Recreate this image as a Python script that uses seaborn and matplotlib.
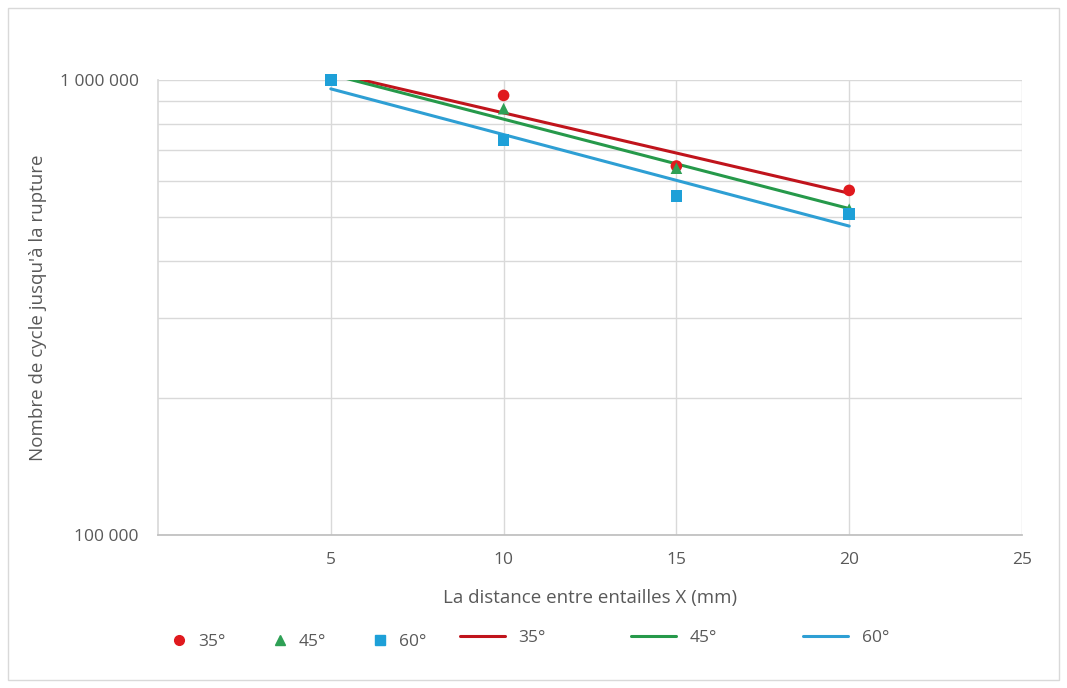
import numpy as np
import pandas as pd
import matplotlib
matplotlib.use("Agg")
import matplotlib.pyplot as plt
from matplotlib.lines import Line2D
from matplotlib.patches import Rectangle
from matplotlib.ticker import FixedLocator, NullFormatter
import seaborn as sns

# ---- data ----
distance = [5, 10, 15, 20]
cycles_35 = [1000000, 925000, 647000, 572000]
cycles_45 = [1000000, 865000, 640000, 520000]
cycles_60 = [1000000, 738000, 556000, 508000]
series_labels = ["35°", "45°", "60°"]
x_ticks = [5, 10, 15, 20, 25]
y_major = [100000, 1000000]
y_major_labels = ["100 000", "1 000 000"]
y_minor = [200000, 300000, 400000, 500000, 600000, 700000, 800000, 900000]

marker_colors = {"35°": "#E0191E", "45°": "#2EA055", "60°": "#1EA0D8"}
line_colors = {"35°": "#C0141C", "45°": "#26994A", "60°": "#2E9FD4"}
markers = {"35°": "o", "45°": "^", "60°": "s"}

df = pd.DataFrame({
    "x": distance * 3,
    "y": cycles_35 + cycles_45 + cycles_60,
    "angle": [series_labels[0]] * 4 + [series_labels[1]] * 4 + [series_labels[2]] * 4,
})

# exponential trend lines (as spreadsheet "exponential" trendline)
trend_rows = []
for lab, vals in zip(series_labels, [cycles_35, cycles_45, cycles_60]):
    b, a = np.polyfit(distance, np.log10(vals), 1)
    xs = np.linspace(min(distance), max(distance), 50)
    for xv in xs:
        trend_rows.append({"x": xv, "y": 10 ** (a + b * xv), "angle": lab})
trend = pd.DataFrame(trend_rows)

sns.set_theme(style="white")
plt.rcParams["font.family"] = ["Open Sans", "DejaVu Sans"]

fig = plt.figure(figsize=(10.67, 6.88), dpi=100)
ax = fig.add_axes([158 / 1067, 1 - 535 / 688, (1022 - 158) / 1067, (535 - 80) / 688])

grid_c = "#D9D9D9"
text_c = "#595959"

sns.lineplot(data=trend, x="x", y="y", hue="angle", palette=line_colors,
             linewidth=2.2, ax=ax, legend=False, zorder=3)
for lab in series_labels:
    sub = df[df["angle"] == lab]
    sns.scatterplot(data=sub, x="x", y="y", color=marker_colors[lab],
                    marker=markers[lab], s=70, edgecolor="none", ax=ax,
                    legend=False, zorder=4, clip_on=False)

ax.set_yscale("log")
ax.set_ylim(100000, 1000000)
ax.set_xlim(0, 25)
ax.set_xticks(x_ticks)
ax.set_xticklabels([str(t) for t in x_ticks])
ax.yaxis.set_major_locator(FixedLocator(y_major))
ax.set_yticklabels(y_major_labels)
ax.yaxis.set_minor_locator(FixedLocator(y_minor))
ax.yaxis.set_minor_formatter(NullFormatter())

ax.grid(True, which="major", axis="both", color=grid_c, linewidth=1)
ax.grid(True, which="minor", axis="y", color=grid_c, linewidth=1)
ax.set_axisbelow(True)
for side in ["top", "right"]:
    ax.spines[side].set_visible(False)
ax.spines["left"].set_color(grid_c)
ax.spines["bottom"].set_color("#BFBFBF")
ax.tick_params(axis="both", which="both", length=0, labelsize=12.5, colors=text_c)
ax.tick_params(axis="x", pad=12)
ax.tick_params(axis="y", pad=14)

ax.set_xlabel("La distance entre entailles X (mm)", fontsize=13.5, color=text_c, labelpad=15)
ax.set_ylabel("Nombre de cycle jusqu'à la rupture", fontsize=13.5, color=text_c, labelpad=9)

# legends
mk_handles = [Line2D([], [], linestyle="none", marker=markers[l], color=marker_colors[l],
                     markersize=7) for l in series_labels]
ln_handles = [Line2D([], [], color=line_colors[l], linewidth=2.2) for l in series_labels]
leg1 = fig.legend(mk_handles, series_labels, ncol=3, frameon=False, loc="center left",
                  bbox_to_anchor=(155 / 1067, 1 - 642 / 688), handlelength=1.0,
                  columnspacing=2.6, handletextpad=0.6, fontsize=12.5, labelcolor=text_c)
leg2 = fig.legend(ln_handles, series_labels, ncol=3, frameon=False, loc="center left",
                  bbox_to_anchor=(444 / 1067, 1 - 638 / 688), handlelength=2.6,
                  columnspacing=4.9, handletextpad=0.8, fontsize=12.5, labelcolor=text_c)

fig.patches.append(Rectangle((8 / 1067, 8 / 688), 1 - 16 / 1067, 1 - 16 / 688,
                             transform=fig.transFigure, fill=False,
                             edgecolor="#D9D9D9", linewidth=1))

fig.savefig("out.png", dpi=100, facecolor="white")
